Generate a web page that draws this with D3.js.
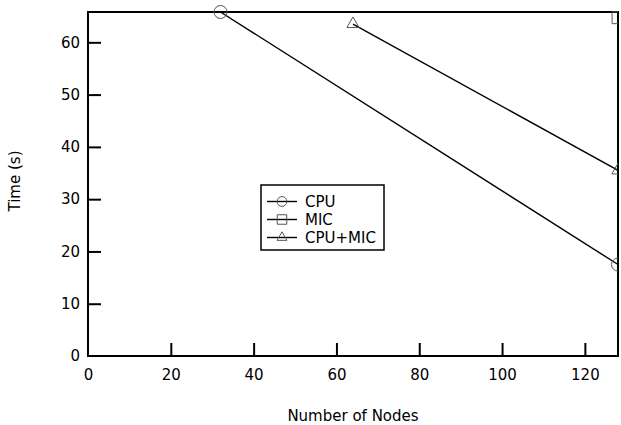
<!DOCTYPE html>
<html>
<head>
<meta charset="utf-8">
<script src="https://cdn.jsdelivr.net/npm/d3@7/dist/d3.min.js"></script>
<style>
  html, body { margin: 0; padding: 0; background: #fff; }
  svg text { font-family: "DejaVu Sans", sans-serif; fill: #000; }
</style>
</head>
<body>
<svg id="chart" width="621" height="425"></svg>
<script>
// Run time against number of nodes for each configuration
const seriesNames = ["CPU", "MIC", "CPU+MIC"];
const cpuNodes = [32, 128];
const cpuTime = [65.8, 17.5];
const micNodes = [128];
const micTime = [64.7];
const hybridNodes = [64, 128];
const hybridTime = [63.5, 35.5];
const xTicks = [0, 20, 40, 60, 80, 100, 120];
const yTicks = [0, 10, 20, 30, 40, 50, 60];
const xMax = 128;

const series = [
  { name: seriesNames[0], symbol: d3.symbolCircle, size: 133, legendSize: 75, pts: cpuNodes.map((n, i) => [n, cpuTime[i]]) },
  { name: seriesNames[1], symbol: d3.symbolSquare, size: 140, legendSize: 90, pts: micNodes.map((n, i) => [n, micTime[i]]) },
  { name: seriesNames[2], symbol: d3.symbolTriangle, size: 65, legendSize: 42, pts: hybridNodes.map((n, i) => [n, hybridTime[i]]) }
];

const yMax = d3.max([...cpuTime, ...micTime, ...hybridTime]);

const svg = d3.select("#chart");
const m = { left: 88, right: 3, top: 12, bottom: 69 };
const W = 621, H = 425;

const x = d3.scaleLinear().domain([0, xMax]).range([m.left, W - m.right]);
const y = d3.scaleLinear().domain([0, yMax]).range([H - m.bottom, m.top]);

// Marks are cut off at the right edge of the plot only
svg.append("defs").append("clipPath").attr("id", "plotclip")
  .append("rect")
  .attr("x", x(0)).attr("y", 0)
  .attr("width", x(xMax) - x(0)).attr("height", y(0));

// Axes with inward ticks
const xAxis = svg.append("g").attr("transform", `translate(0,${y(0)})`)
  .call(d3.axisBottom(x).tickValues(xTicks).tickSizeInner(-13).tickSizeOuter(0).tickPadding(13));
const yAxis = svg.append("g").attr("transform", `translate(${x(0)},0)`)
  .call(d3.axisLeft(y).tickValues(yTicks).tickSizeInner(-13).tickSizeOuter(0).tickPadding(8));

[xAxis, yAxis].forEach(g => {
  g.select(".domain").remove();
  g.selectAll(".tick line").attr("stroke", "#000").attr("stroke-width", 2);
  g.selectAll(".tick text").attr("font-size", 15).attr("fill", "#000")
    .attr("font-family", "DejaVu Sans, sans-serif");
});
xAxis.selectAll(".tick").filter(d => d === 0).select("line").remove();
yAxis.selectAll(".tick").filter(d => d === 0).select("line").remove();

// Frame
svg.append("rect")
  .attr("x", x(0)).attr("y", y(yMax))
  .attr("width", x(xMax) - x(0)).attr("height", y(0) - y(yMax))
  .attr("fill", "none").attr("stroke", "#000").attr("stroke-width", 2);

// Series lines and markers
const line = d3.line().x(d => x(d[0])).y(d => y(d[1]));
const plot = svg.append("g").attr("clip-path", "url(#plotclip)");
series.forEach(s => {
  if (s.pts.length > 1) {
    plot.append("path").attr("d", line(s.pts))
      .attr("fill", "none").attr("stroke", "#000").attr("stroke-width", 1.4);
  }
  plot.selectAll(null).data(s.pts).enter().append("path")
    .attr("d", d3.symbol().type(s.symbol).size(s.size))
    .attr("transform", d => `translate(${x(d[0])},${y(d[1])})`)
    .attr("fill", "none").attr("stroke", "#555").attr("stroke-width", 1);
});

// Axis titles
svg.append("text")
  .attr("x", (x(0) + x(xMax)) / 2).attr("y", 421)
  .attr("text-anchor", "middle").attr("font-size", 15)
  .text("Number of Nodes");
svg.append("text")
  .attr("transform", "translate(20,181) rotate(-90)")
  .attr("text-anchor", "middle").attr("font-size", 15)
  .text("Time (s)");

// Legend
const lg = svg.append("g").attr("transform", "translate(261,185)");
lg.append("rect").attr("width", 123).attr("height", 65)
  .attr("fill", "#fff").attr("stroke", "#000").attr("stroke-width", 1.5);
series.forEach((s, i) => {
  const cy = 16.5 + i * 18;
  lg.append("line").attr("x1", 6).attr("x2", 36).attr("y1", cy).attr("y2", cy)
    .attr("stroke", "#000").attr("stroke-width", 1.4);
  lg.append("path")
    .attr("d", d3.symbol().type(s.symbol).size(s.legendSize))
    .attr("transform", `translate(21,${cy})`)
    .attr("fill", "none").attr("stroke", "#555").attr("stroke-width", 1);
  lg.append("text").attr("x", 44).attr("y", cy + 5.5).attr("font-size", 15).text(s.name);
});
</script>
</body>
</html>
